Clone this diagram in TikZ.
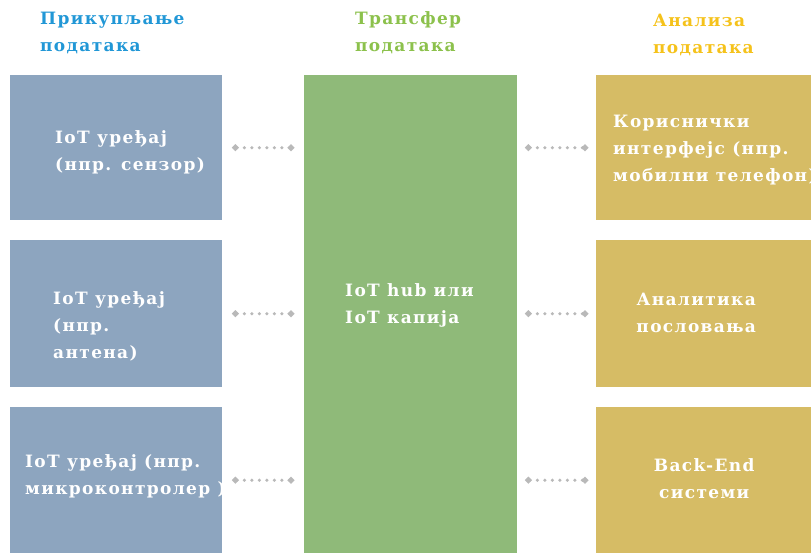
\documentclass[tikz,border=0pt]{standalone}
\usepackage{fontspec}
\setmainfont{DejaVu Serif}[LetterSpace=8]
\usetikzlibrary{arrows.meta}

\begin{document}
\begin{tikzpicture}[x=1pt, y=-1pt,
    box/.style={anchor=north west, inner sep=0pt},
    txt/.style={inner sep=0pt, font=\fontsize{17}{27}\selectfont\bfseries, text=white},
    title/.style={anchor=north west, align=left, inner sep=0pt, font=\fontsize{17}{27}\selectfont\bfseries},
    link/.style={draw=gray!55, line width=3.5pt, line cap=round, dash pattern=on 0pt off 7.5pt,
        {Circle[length=6pt, fill=gray!55]}-{Circle[length=6pt, fill=gray!55]}}]
    \definecolor{devColour}{HTML}{8DA5BF}
    \definecolor{hubColour}{HTML}{8FBA79}
    \definecolor{appColour}{HTML}{D6BC65}
    \definecolor{devTitle}{HTML}{2197D6}
    \definecolor{hubTitle}{HTML}{8CC14C}
    \definecolor{appTitle}{HTML}{F5C21B}

    \useasboundingbox (0,0) rectangle (811,552);

    % Column titles
    \node[title, text=devTitle] (tDev) at (40,12) {Прикупљање\\података};
    \node[title, text=hubTitle] (tHub) at (355,11) {Трансфер\\података};
    \node[title, text=appTitle] (tApp) at (653,14) {Анализа\\података};

    % Devices
    \node[box, fill=devColour, minimum width=212, minimum height=145] (dev1) at (10,75) {};
    \node[box, fill=devColour, minimum width=212, minimum height=147] (dev2) at (10,240) {};
    \node[box, fill=devColour, minimum width=212, minimum height=146] (dev3) at (10,407) {};
    \node[txt, anchor=west, align=left] (dev1txt) at ([xshift=45, yshift=-4.5]dev1.west) {IoT уређај\\(нпр. сензор)};
    \node[txt, anchor=west, align=left] (dev2txt) at ([xshift=43, yshift=-12.5]dev2.west) {IoT уређај\\(нпр.\\антена)};
    \node[txt, anchor=west, align=left] (dev3txt) at ([xshift=15, yshift=3.5]dev3.west) {IoT уређај (нпр.\\микроконтролер )};

    % Hub
    \node[box, fill=hubColour, minimum width=213, minimum height=478] (hub) at (304,75) {};
    \node[txt, anchor=west, align=left] (hubtxt) at ([xshift=41]hub.west |- 0,305) {IoT hub или\\IoT капија};

    % Applications
    \node[box, fill=appColour, minimum width=216, minimum height=145] (app1) at (596,75) {};
    \node[box, fill=appColour, minimum width=216, minimum height=147] (app2) at (596,240) {};
    \node[box, fill=appColour, minimum width=216, minimum height=146] (app3) at (596,407) {};
    \node[txt, anchor=west, align=left] (app1txt) at ([xshift=17, yshift=-2.5]app1.west) {Кориснички\\интерфејс (нпр.\\мобилни телефон)};
    \node[txt, align=center] (app2txt) at ([xshift=-8, yshift=1]app2.center) {Аналитика\\пословања};
    \node[txt, align=center] (app3txt) at ([yshift=1.5]app3.center) {Back-End\\системи};

    % Dotted links
    \foreach \n in {1,2,3} {
        \coordinate (dl\n) at ([xshift=10pt]dev\n.east);
        \coordinate (hl\n) at (hub.west |- dev\n.east);
        \coordinate (hr\n) at (hub.east |- app\n.west);
        \draw[link] (dl\n) -- ([xshift=-10pt]hl\n);
        \draw[link] ([xshift=8pt]hr\n) -- ([xshift=-8pt]app\n.west);
    }

\end{tikzpicture}
\end{document}
